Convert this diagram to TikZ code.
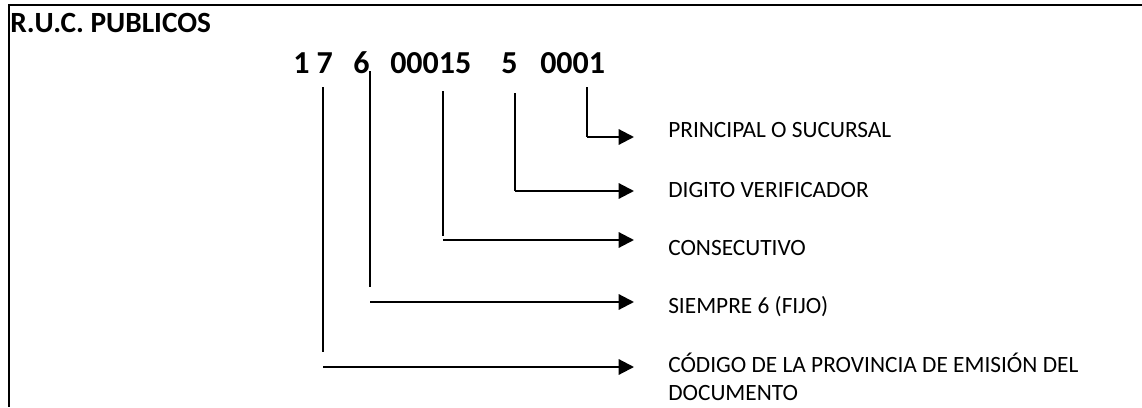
\documentclass[tikz,border=0pt]{standalone}
\usepackage{fontspec}
\setmainfont{Carlito}
\usetikzlibrary{arrows.meta, positioning}

\begin{document}
\begin{tikzpicture}[
        x=0.75pt, y=-0.75pt,
        title/.style={anchor=base west, inner sep=0pt, font=\fontsize{22}{26}\selectfont\bfseries},
        digits/.style={anchor=base west, inner sep=0pt, font=\fontsize{24}{28}\selectfont\bfseries},
        desc/.style={anchor=base west, inner sep=0pt, align=left, font=\fontsize{17.5}{21}\selectfont},
        stem/.style={draw, line width=1pt},
        arm/.style={draw, line width=1.6pt, -{Triangle[length=11.5pt, width=11.5pt]}}
    ]
        \useasboundingbox (0,0) rectangle (1142,407);
        \draw [line width=1.5pt] (1142,4.5) -- (8.5,4.5) -- (8.5,407);

        \node [title] (head) at (10,32) {R.U.C. PUBLICOS};

        % number groups
        \node [digits] (nprov) at (293,73) {1 7};
        \node [digits] (nfijo) at (353,73) {6};
        \node [digits] (ncons) at (390,73) {00015};
        \node [digits] (nver) at (501,73) {5};
        \node [digits] (nsuc) at (540,73) {0001};

        % descriptions (base = last line)
        \node [desc] (lsuc) at (668,137) {PRINCIPAL O SUCURSAL};
        \node [desc] (lver) at (668,197) {DIGITO VERIFICADOR};
        \node [desc] (lcons) at (668,255) {CONSECUTIVO};
        \node [desc] (lfijo) at (668,313) {SIEMPRE 6 (FIJO)};
        \node [desc] (lprov) at (668,400) {CÓDIGO DE LA PROVINCIA DE EMISIÓN DEL\\DOCUMENTO};

        \coordinate (tsuc) at (587,87);
        \coordinate (tver) at (515,93);
        \coordinate (tcons) at (443,91);
        \coordinate (tfijo) at (370,71);
        \coordinate (tprov) at (323,87);
        \coordinate (bcons) at (443,236);
        \coordinate (bfijo) at (370,287);
        \coordinate (bprov) at (323,352);
        \coordinate (esuc) at (634,137);
        \coordinate (ever) at (634,191);
        \coordinate (econs) at (634,240);
        \coordinate (efijo) at (634,302);
        \coordinate (eprov) at (634,367);

        \path [stem] (tsuc) -- (tsuc |- esuc);
        \path [arm] (tsuc |- esuc) -- (esuc);
        \path [stem] (tver) -- (tver |- ever);
        \path [arm] (tver |- ever) -- (ever);
        \path [stem] (tcons) -- (bcons);
        \path [arm] (bcons |- econs) -- (econs);
        \path [stem] (tfijo) -- (bfijo);
        \path [arm] (bfijo |- efijo) -- (efijo);
        \path [stem] (tprov) -- (bprov);
        \path [arm] (bprov |- eprov) -- (eprov);
    \end{tikzpicture}
\end{document}
